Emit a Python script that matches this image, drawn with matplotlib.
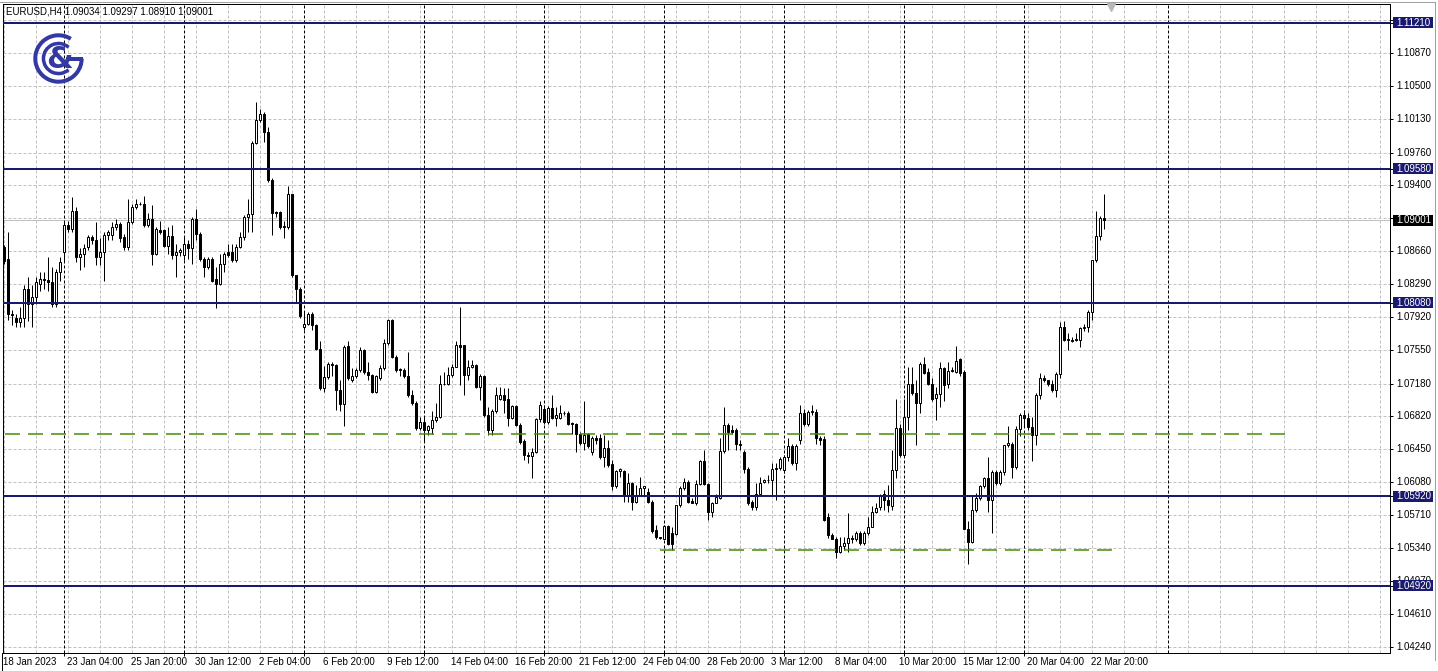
import matplotlib
matplotlib.use("Agg")
import matplotlib.pyplot as plt
import matplotlib.transforms as mtransforms
from matplotlib.patches import Arc, Rectangle
from matplotlib.lines import Line2D

plt.rcParams['lines.scale_dashes'] = False
plt.rcParams['font.family'] = ['Liberation Sans', 'DejaVu Sans']

# ---------------- data (EURUSD H4, bar index 0 = 18 Jan 2023 12:00) ----------------
opens = [
    1.0870, 1.0857, 1.0796, 1.0791, 1.0787, 1.0791, 1.0824, 1.0807, 1.0815, 1.0829,
    1.0835, 1.0834, 1.0831, 1.0807, 1.0842, 1.0865, 1.0895, 1.0891, 1.0911, 1.0859,
    1.0863, 1.0870, 1.0882, 1.0878, 1.0859, 1.0865, 1.0884, 1.0884, 1.0893, 1.0896,
    1.0882, 1.0870, 1.0898, 1.0915, 1.0918, 1.0919, 1.0895, 1.0902, 1.0863, 1.0889,
    1.0889, 1.0872, 1.0883, 1.0861, 1.0865, 1.0861, 1.0874, 1.0869, 1.0902, 1.0885,
    1.0857, 1.0848, 1.0857, 1.0835, 1.0829, 1.0852, 1.0865, 1.0865, 1.0856, 1.0871,
    1.0882, 1.0904, 1.0907, 1.0987, 1.1012, 1.1019, 1.0999, 1.0945, 1.0910, 1.0910,
    1.0894, 1.0893, 1.0930, 1.0839, 1.0824, 1.0781, 1.0785, 1.0796, 1.0783, 1.0757,
    1.0713, 1.0725, 1.0740, 1.0739, 1.0711, 1.0695, 1.0760, 1.0722, 1.0726, 1.0733,
    1.0755, 1.0731, 1.0727, 1.0709, 1.0724, 1.0735, 1.0763, 1.0789, 1.0748, 1.0734,
    1.0733, 1.0726, 1.0705, 1.0696, 1.0668, 1.0675, 1.0666, 1.0668, 1.0677, 1.0681,
    1.0717, 1.0718, 1.0727, 1.0737, 1.0761, 1.0761, 1.0727, 1.0737, 1.0739, 1.0714,
    1.0726, 1.0683, 1.0666, 1.0687, 1.0701, 1.0705, 1.0701, 1.0679, 1.0693, 1.0672,
    1.0654, 1.0638, 1.0637, 1.0642, 1.0678, 1.0690, 1.0675, 1.0691, 1.0679, 1.0680,
    1.0685, 1.0685, 1.0674, 1.0673, 1.0662, 1.0652, 1.0662, 1.0642, 1.0657, 1.0657,
    1.0636, 1.0646, 1.0628, 1.0603, 1.0620, 1.0620, 1.0592, 1.0607, 1.0586, 1.0593,
    1.0601, 1.0597, 1.0586, 1.0554, 1.0547, 1.0544, 1.0559, 1.0551, 1.0550, 1.0582,
    1.0601, 1.0608, 1.0587, 1.0585, 1.0606, 1.0632, 1.0606, 1.0575, 1.0585, 1.0590,
    1.0643, 1.0672, 1.0666, 1.0666, 1.0651, 1.0642, 1.0623, 1.0586, 1.0580, 1.0595,
    1.0608, 1.0610, 1.0610, 1.0623, 1.0624, 1.0621, 1.0636, 1.0648, 1.0629, 1.0655,
    1.0685, 1.0673, 1.0686, 1.0686, 1.0657, 1.0656, 1.0569, 1.0549, 1.0544, 1.0530,
    1.0536, 1.0540, 1.0545, 1.0544, 1.0551, 1.0540, 1.0551, 1.0558, 1.0575, 1.0580,
    1.0595, 1.0588, 1.0581, 1.0621, 1.0668, 1.0638, 1.0681, 1.0717, 1.0707, 1.0696,
    1.0740, 1.0731, 1.0718, 1.0702, 1.0706, 1.0735, 1.0717, 1.0732, 1.0731, 1.0745,
    1.0731, 1.0556, 1.0541, 1.0577, 1.0590, 1.0603, 1.0612, 1.0588, 1.0619, 1.0607,
    1.0619, 1.0649, 1.0651, 1.0625, 1.0667, 1.0683, 1.0680, 1.0669, 1.0660, 1.0705,
    1.0724, 1.0722, 1.0717, 1.0711, 1.0729, 1.0781, 1.0768, 1.0767, 1.0768, 1.0767,
    1.0780, 1.0781, 1.0798, 1.0856, 1.0883, 1.09034,
]
highs = [
    1.0873, 1.0887, 1.0800, 1.0796, 1.0804, 1.0828, 1.0837, 1.0828, 1.0837, 1.0843,
    1.0843, 1.0859, 1.0848, 1.0846, 1.0859, 1.0899, 1.0899, 1.0926, 1.0915, 1.0869,
    1.0874, 1.0884, 1.0884, 1.0898, 1.0880, 1.0887, 1.0889, 1.0898, 1.0902, 1.0898,
    1.0885, 1.0924, 1.0919, 1.0924, 1.0921, 1.0928, 1.0909, 1.0917, 1.0893, 1.0900,
    1.0891, 1.0893, 1.0895, 1.0874, 1.0869, 1.0882, 1.0878, 1.0904, 1.0913, 1.0887,
    1.0859, 1.0859, 1.0859, 1.0848, 1.0863, 1.0865, 1.0874, 1.0874, 1.0874, 1.0887,
    1.0906, 1.0924, 1.0989, 1.1032, 1.1025, 1.1021, 1.1004, 1.0947, 1.0911, 1.0911,
    1.0900, 1.0939, 1.0930, 1.0839, 1.0826, 1.0798, 1.0798, 1.0798, 1.0784, 1.0766,
    1.0738, 1.0742, 1.0742, 1.0740, 1.0722, 1.0761, 1.0766, 1.0735, 1.0735, 1.0759,
    1.0757, 1.0742, 1.0729, 1.0727, 1.0739, 1.0768, 1.0790, 1.0790, 1.0750, 1.0735,
    1.0735, 1.0753, 1.0711, 1.0698, 1.0681, 1.0681, 1.0672, 1.0687, 1.0696, 1.0727,
    1.0731, 1.0737, 1.0740, 1.0766, 1.0803, 1.0761, 1.0744, 1.0744, 1.0740, 1.0729,
    1.0727, 1.0692, 1.0690, 1.0714, 1.0714, 1.0713, 1.0713, 1.0694, 1.0694, 1.0674,
    1.0656, 1.0642, 1.0646, 1.0679, 1.0698, 1.0694, 1.0693, 1.0705, 1.0692, 1.0694,
    1.0687, 1.0687, 1.0675, 1.0674, 1.0664, 1.0698, 1.0663, 1.0659, 1.0661, 1.0662,
    1.0661, 1.0655, 1.0633, 1.0621, 1.0624, 1.0621, 1.0618, 1.0608, 1.0605, 1.0614,
    1.0604, 1.0601, 1.0588, 1.0560, 1.0547, 1.0560, 1.0560, 1.0558, 1.0582, 1.0603,
    1.0612, 1.0610, 1.0590, 1.0610, 1.0633, 1.0644, 1.0607, 1.0586, 1.0595, 1.0657,
    1.0692, 1.0674, 1.0672, 1.0668, 1.0655, 1.0644, 1.0625, 1.0588, 1.0607, 1.0614,
    1.0611, 1.0616, 1.0629, 1.0629, 1.0636, 1.0638, 1.0657, 1.0651, 1.0651, 1.0694,
    1.0690, 1.0688, 1.0694, 1.0690, 1.0659, 1.0659, 1.0573, 1.0551, 1.0547, 1.0547,
    1.0547, 1.0573, 1.0549, 1.0553, 1.0553, 1.0553, 1.0569, 1.0581, 1.0584, 1.0595,
    1.0599, 1.0605, 1.0644, 1.0701, 1.0673, 1.0701, 1.0736, 1.0736, 1.0722, 1.0742,
    1.0748, 1.0735, 1.0724, 1.0714, 1.0742, 1.0737, 1.0742, 1.0737, 1.0760, 1.0746,
    1.0733, 1.0564, 1.0594, 1.0596, 1.0605, 1.0614, 1.0636, 1.0621, 1.0621, 1.0621,
    1.0649, 1.0670, 1.0653, 1.0670, 1.0685, 1.0688, 1.0685, 1.0681, 1.0707, 1.0730,
    1.0727, 1.0722, 1.0722, 1.0731, 1.0787, 1.0788, 1.0774, 1.0770, 1.0774, 1.0781,
    1.0785, 1.0800, 1.0856, 1.0911, 1.0905, 1.09297,
]
lows = [
    1.0851, 1.0789, 1.0783, 1.0781, 1.0781, 1.0781, 1.0788, 1.0781, 1.0807, 1.0821,
    1.0824, 1.0821, 1.0804, 1.0804, 1.0833, 1.0854, 1.0887, 1.0887, 1.0854, 1.0845,
    1.0848, 1.0867, 1.0874, 1.0850, 1.0850, 1.0833, 1.0878, 1.0878, 1.0889, 1.0876,
    1.0867, 1.0867, 1.0896, 1.0913, 1.0917, 1.0893, 1.0893, 1.0850, 1.0861, 1.0885,
    1.0870, 1.0863, 1.0857, 1.0837, 1.0860, 1.0856, 1.0857, 1.0852, 1.0878, 1.0855,
    1.0837, 1.0846, 1.0831, 1.0802, 1.0828, 1.0843, 1.0859, 1.0854, 1.0854, 1.0869,
    1.0878, 1.0887, 1.0887, 1.0986, 1.1010, 1.0988, 1.0943, 1.0884, 1.0904, 1.0891,
    1.0880, 1.0891, 1.0837, 1.0809, 1.0791, 1.0778, 1.0783, 1.0778, 1.0755, 1.0711,
    1.0709, 1.0723, 1.0726, 1.0688, 1.0687, 1.0670, 1.0722, 1.0720, 1.0724, 1.0731,
    1.0729, 1.0722, 1.0707, 1.0707, 1.0722, 1.0733, 1.0761, 1.0746, 1.0731, 1.0726,
    1.0724, 1.0703, 1.0694, 1.0666, 1.0666, 1.0653, 1.0661, 1.0662, 1.0675, 1.0679,
    1.0716, 1.0716, 1.0725, 1.0736, 1.0716, 1.0705, 1.0722, 1.0735, 1.0713, 1.0700,
    1.0681, 1.0661, 1.0661, 1.0685, 1.0700, 1.0685, 1.0670, 1.0678, 1.0670, 1.0651,
    1.0633, 1.0629, 1.0612, 1.0640, 1.0675, 1.0673, 1.0673, 1.0678, 1.0670, 1.0678,
    1.0683, 1.0672, 1.0662, 1.0642, 1.0649, 1.0644, 1.0646, 1.0638, 1.0651, 1.0634,
    1.0625, 1.0625, 1.0599, 1.0601, 1.0614, 1.0586, 1.0586, 1.0577, 1.0584, 1.0592,
    1.0593, 1.0584, 1.0551, 1.0544, 1.0544, 1.0544, 1.0538, 1.0532, 1.0549, 1.0580,
    1.0599, 1.0584, 1.0584, 1.0582, 1.0605, 1.0605, 1.0566, 1.0569, 1.0584, 1.0589,
    1.0640, 1.0644, 1.0662, 1.0644, 1.0644, 1.0618, 1.0582, 1.0577, 1.0577, 1.0593,
    1.0607, 1.0607, 1.0592, 1.0588, 1.0621, 1.0618, 1.0631, 1.0627, 1.0621, 1.0651,
    1.0670, 1.0670, 1.0683, 1.0651, 1.0649, 1.0564, 1.0545, 1.0544, 1.0523, 1.0529,
    1.0532, 1.0530, 1.0540, 1.0542, 1.0538, 1.0538, 1.0549, 1.0558, 1.0573, 1.0577,
    1.0577, 1.0575, 1.0577, 1.0612, 1.0636, 1.0636, 1.0666, 1.0705, 1.0649, 1.0685,
    1.0729, 1.0716, 1.0698, 1.0677, 1.0692, 1.0698, 1.0713, 1.0731, 1.0730, 1.0726,
    1.0556, 1.0516, 1.0540, 1.0575, 1.0588, 1.0601, 1.0575, 1.0551, 1.0605, 1.0605,
    1.0616, 1.0647, 1.0612, 1.0623, 1.0659, 1.0670, 1.0666, 1.0631, 1.0649, 1.0701,
    1.0720, 1.0715, 1.0709, 1.0703, 1.0724, 1.0766, 1.0755, 1.0764, 1.0766, 1.0759,
    1.0777, 1.0776, 1.0789, 1.0854, 1.0878, 1.08910,
]
closes = [
    1.0855, 1.0796, 1.0794, 1.0787, 1.0791, 1.0824, 1.0807, 1.0815, 1.0831, 1.0835,
    1.0834, 1.0831, 1.0807, 1.0842, 1.0854, 1.0895, 1.0891, 1.0911, 1.0859, 1.0863,
    1.0869, 1.0882, 1.0878, 1.0859, 1.0865, 1.0884, 1.0887, 1.0893, 1.0896, 1.0880,
    1.0870, 1.0898, 1.0915, 1.0919, 1.0919, 1.0895, 1.0902, 1.0863, 1.0891, 1.0887,
    1.0872, 1.0883, 1.0861, 1.0865, 1.0867, 1.0874, 1.0869, 1.0902, 1.0885, 1.0857,
    1.0848, 1.0857, 1.0833, 1.0829, 1.0852, 1.0863, 1.0861, 1.0856, 1.0871, 1.0882,
    1.0904, 1.0907, 1.0987, 1.1012, 1.1019, 1.0999, 1.0945, 1.0908, 1.0908, 1.0893,
    1.0893, 1.0930, 1.0839, 1.0824, 1.0793, 1.0785, 1.0796, 1.0783, 1.0757, 1.0713,
    1.0725, 1.0740, 1.0739, 1.0711, 1.0695, 1.0759, 1.0724, 1.0726, 1.0733, 1.0755,
    1.0731, 1.0727, 1.0709, 1.0726, 1.0735, 1.0763, 1.0789, 1.0748, 1.0733, 1.0733,
    1.0726, 1.0705, 1.0696, 1.0668, 1.0675, 1.0666, 1.0670, 1.0677, 1.0681, 1.0718,
    1.0718, 1.0727, 1.0737, 1.0761, 1.0759, 1.0727, 1.0737, 1.0739, 1.0714, 1.0726,
    1.0683, 1.0666, 1.0687, 1.0705, 1.0705, 1.0700, 1.0679, 1.0693, 1.0672, 1.0653,
    1.0638, 1.0637, 1.0642, 1.0678, 1.0694, 1.0675, 1.0691, 1.0679, 1.0683, 1.0685,
    1.0685, 1.0673, 1.0673, 1.0662, 1.0652, 1.0661, 1.0648, 1.0657, 1.0655, 1.0636,
    1.0646, 1.0627, 1.0603, 1.0620, 1.0622, 1.0592, 1.0607, 1.0586, 1.0593, 1.0601,
    1.0603, 1.0586, 1.0553, 1.0547, 1.0545, 1.0559, 1.0539, 1.0539, 1.0582, 1.0601,
    1.0608, 1.0586, 1.0585, 1.0606, 1.0632, 1.0606, 1.0575, 1.0585, 1.0591, 1.0643,
    1.0672, 1.0664, 1.0664, 1.0651, 1.0649, 1.0623, 1.0584, 1.0580, 1.0595, 1.0607,
    1.0610, 1.0610, 1.0623, 1.0624, 1.0634, 1.0636, 1.0648, 1.0629, 1.0648, 1.0685,
    1.0673, 1.0686, 1.0687, 1.0657, 1.0655, 1.0566, 1.0549, 1.0544, 1.0530, 1.0536,
    1.0540, 1.0545, 1.0544, 1.0551, 1.0540, 1.0551, 1.0558, 1.0574, 1.0579, 1.0593,
    1.0588, 1.0582, 1.0621, 1.0668, 1.0638, 1.0681, 1.0717, 1.0707, 1.0696, 1.0740,
    1.0730, 1.0718, 1.0701, 1.0706, 1.0735, 1.0716, 1.0732, 1.0733, 1.0743, 1.0730,
    1.0556, 1.0541, 1.0577, 1.0590, 1.0603, 1.0612, 1.0588, 1.0619, 1.0607, 1.0619,
    1.0649, 1.0652, 1.0625, 1.0667, 1.0683, 1.0680, 1.0669, 1.0660, 1.0705, 1.0724,
    1.0722, 1.0717, 1.0711, 1.0729, 1.0781, 1.0767, 1.0767, 1.0766, 1.0767, 1.0780,
    1.0781, 1.0798, 1.0856, 1.0883, 1.0903, 1.09001,
]

header_text = "EURUSD,H4 1.09034 1.09297 1.08910 1.09001"
level_prices = [1.11210, 1.09580, 1.08080, 1.05920, 1.04920]
level_labels = ["1.11210", "1.09580", "1.08080", "1.05920", "1.04920"]
bid_price = 1.09001
bid_label = "1.09001"
grid_prices = [1.11240, 1.10870, 1.10500, 1.10130, 1.09760, 1.09400, 1.09030,
               1.08660, 1.08290, 1.07920, 1.07550, 1.07180, 1.06820, 1.06450,
               1.06080, 1.05710, 1.05340, 1.04970, 1.04610, 1.04240]
grid_labels = ["", "1.10870", "1.10500", "1.10130", "1.09760", "1.09400", "",
               "1.08660", "1.08290", "1.07920", "1.07550", "1.07180", "1.06820", "1.06450",
               "1.06080", "1.05710", "1.05340", "1.04970", "1.04610", "1.04240"]
date_bars = [0, 16, 32, 48, 64, 80, 96, 112, 128, 144, 160, 176, 192, 208, 224, 240, 256, 272]
date_labels = ["18 Jan 2023", "23 Jan 04:00", "25 Jan 20:00", "30 Jan 12:00", "2 Feb 04:00",
               "6 Feb 20:00", "9 Feb 12:00", "14 Feb 04:00", "16 Feb 20:00", "21 Feb 12:00",
               "24 Feb 04:00", "28 Feb 20:00", "3 Mar 12:00", "8 Mar 04:00", "10 Mar 20:00",
               "15 Mar 12:00", "20 Mar 04:00", "22 Mar 20:00"]
separator_bars = [15, 45, 75, 105, 135, 165, 195, 225, 255, 290.8]
green_upper = dict(price=1.06620, start=0.2, end=320.7)
green_lower = dict(price=1.05321, start=164.0, end=278.4)

# ---------------- styling ----------------
W, H, DPI = 1438, 671, 100
PX = 0.72  # points per pixel
NAVY = '#191970'
GRID = '#c0c0c0'
GREEN = '#3f8c00'
LOGO = '#3338a3'

fig = plt.figure(figsize=(W / DPI, H / DPI), dpi=DPI)
fig.patch.set_facecolor('white')
ax_l, ax_r, ax_t, ax_b = 3, 1390, 4, 653
ax = fig.add_axes([ax_l / W, (H - ax_b) / H, (ax_r - ax_l) / W, (ax_b - ax_t) / H])
ax.set_facecolor('white')

n = len(closes)
xs = list(range(n))
ax.set_xlim(-0.325, 346.425)
ax.set_ylim(1.04170, 1.11419)

# grid
for gp in grid_prices:
    ax.axhline(gp, color=GRID, lw=1 * PX, ls=(0, (3 * PX, 2 * PX)), zorder=0.5)
for k in range(0, 44):
    ax.axvline(8 * k, color=GRID, lw=1 * PX, ls=(0, (3 * PX, 2 * PX)), zorder=0.5)

# bid line
ax.axhline(bid_price, color='#c0c0c0', lw=1 * PX, zorder=0.6)

# period separators
for sb in separator_bars:
    ax.axvline(sb, color='black', lw=1 * PX, ls=(0, (3 * PX, 2 * PX)), zorder=0.7)

# candles
ax.vlines(xs, lows, highs, color='black', lw=1 * PX, zorder=2)
bottoms = [min(o, c) for o, c in zip(opens, closes)]
heights = [max(abs(c - o), 0.00001) for o, c in zip(opens, closes)]
colors = ['white' if c >= o else 'black' for o, c in zip(opens, closes)]
ax.bar(xs, heights, bottom=bottoms, width=0.5, color=colors, edgecolor='black',
       linewidth=1 * PX, zorder=3)

# level lines
for lp in level_prices:
    ax.axhline(lp, color=NAVY, lw=2 * PX, zorder=4)

# green dashed lines
for g in (green_upper, green_lower):
    ax.plot([g['start'], g['end']], [g['price'], g['price']], color=GREEN, lw=1.5 * PX,
            ls=(0, (15 * PX, 8 * PX)), zorder=4)

# axes frame
for s in ax.spines.values():
    s.set_color('black')
    s.set_linewidth(1 * PX)

# right price scale
ax.yaxis.tick_right()
ax.set_yticks(grid_prices + level_prices)
ax.set_yticklabels([])
ax.tick_params(axis='y', length=3 * PX, width=1 * PX, color='black')
ax.tick_params(axis='y', which='both', left=False)
ax.set_xticks(separator_bars[:-1])
ax.set_xticklabels([])
ax.tick_params(axis='x', length=3 * PX, width=1 * PX, color='black')

ytr = mtransforms.blended_transform_factory(ax.transAxes, ax.transData)
xtr = mtransforms.blended_transform_factory(ax.transData, ax.transAxes)
axw = ax_r - ax_l
pxy = (1.11419 - 1.04170) / (ax_b - ax_t)
lab_x = 1.0 + 6 / axw
for gp, gl in zip(grid_prices, grid_labels):
    if gl:
        ax.text(lab_x, gp, gl, transform=ytr, fontsize=7, ha='left', va='center',
                color='black', clip_on=False, zorder=5)

def box_label(price, text, fc):
    ax.add_patch(Rectangle((1.0 + 3.3 / axw, price - 5.5 * pxy), 40 / axw, 11 * pxy,
                           transform=ytr, facecolor=fc, edgecolor=fc, lw=0,
                           clip_on=False, zorder=6))
    ax.text(lab_x, price, text, transform=ytr, fontsize=7, ha='left', va='center',
            color='white', clip_on=False, zorder=7)

for lp, ll in zip(level_prices, level_labels):
    box_label(lp, ll, NAVY)
box_label(bid_price, bid_label, 'black')

# time scale labels
for db, dl in zip(date_bars, date_labels):
    ax.text(db - 0.4, -4 / (ax_b - ax_t), dl, transform=xtr, fontsize=7, ha='left',
            va='top', color='black', clip_on=False)

# header
ax.text(3 / axw, 1 - 8 / (ax_b - ax_t), header_text, transform=ax.transAxes,
        fontsize=7, ha='left', va='center', color='black', zorder=8)

# chart shift marker
ax.plot([276.7], [1 - 3 / (ax_b - ax_t)], marker='v', ms=6, color='#b8b8b8',
        transform=xtr, clip_on=False, zorder=8)

# window border
fig.add_artist(Line2D([0, 1434.5 / W], [1 - 1.5 / H] * 2, transform=fig.transFigure,
                      color='#a0a0a0', lw=1 * PX))
fig.add_artist(Line2D([1434.5 / W] * 2, [1 - 1.5 / H, 1 - 660 / H], transform=fig.transFigure,
                      color='#a0a0a0', lw=1 * PX))
fig.add_artist(Line2D([1.5 / W] * 2, [0, 1 - 653 / H], transform=fig.transFigure,
                      color='black', lw=1 * PX))

# logo
lax = fig.add_axes([33 / W, (H - 84) / H, 51 / W, 51 / H])
lax.set_xlim(-1, 1)
lax.set_ylim(-1, 1)
lax.axis('off')
lax.patch.set_alpha(0)
lax.add_patch(Arc((0, 0), 1.82, 1.82, theta1=58, theta2=360, color=LOGO, lw=4 * PX))
lax.plot([0.3, 0.98], [0.0, 0.0], color=LOGO, lw=4 * PX, solid_capstyle='butt')
lax.add_patch(Arc((0, 0), 1.18, 1.18, theta1=48, theta2=312, color=LOGO, lw=3.5 * PX))
lax.text(0.02, -0.04, '&', fontsize=22, fontweight='bold', color=LOGO, ha='center',
         va='center', family='DejaVu Sans')

fig.savefig('out.png', dpi=DPI)
